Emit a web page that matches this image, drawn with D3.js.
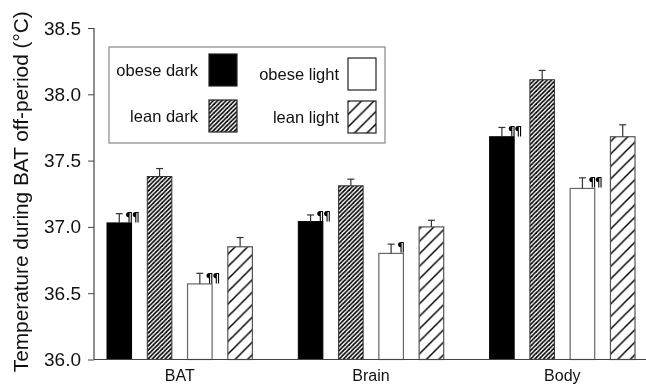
<!DOCTYPE html>
<html>
<head>
<meta charset="utf-8">
<script src="https://cdn.jsdelivr.net/npm/d3@7"></script>
<style>
  html, body { margin: 0; padding: 0; background: #fff; }
  svg { display: block; font-family: "Liberation Sans", Arial, sans-serif; will-change: transform; }
</style>
</head>
<body>
<svg id="chart" width="646" height="387"></svg>
<script>
// Measured sites and groups
const categories = ["BAT", "Brain", "Body"];
const series = ["obese dark", "lean dark", "obese light", "lean light"];

// Mean temperature (°C) per site, one array per group
const obeseDark  = [37.03, 37.04, 37.68];
const leanDark   = [37.38, 37.31, 38.11];
const obeseLight = [36.57, 36.80, 37.29];
const leanLight  = [36.85, 37.00, 37.68];

// Standard errors (upper whisker only)
const obeseDarkErr  = [0.07, 0.05, 0.07];
const leanDarkErr   = [0.06, 0.05, 0.07];
const obeseLightErr = [0.08, 0.07, 0.08];
const leanLightErr  = [0.07, 0.05, 0.09];

// Significance markers vs. lean of same phase
const obeseDarkSig  = ["¶¶", "¶¶", "¶¶"];
const obeseLightSig = ["¶¶", "¶", "¶¶"];

const yTicks = [36.0, 36.5, 37.0, 37.5, 38.0, 38.5];
const yLabel = "Temperature during BAT off-period (°C)";

const values = [obeseDark, leanDark, obeseLight, leanLight];
const errors = [obeseDarkErr, leanDarkErr, obeseLightErr, leanLightErr];
const sigs   = [obeseDarkSig, null, obeseLightSig, null];

const rows = [];
categories.forEach((c, ci) => {
  series.forEach((s, si) => {
    rows.push({
      category: c, series: s,
      value: values[si][ci], err: errors[si][ci],
      sig: sigs[si] ? sigs[si][ci] : null
    });
  });
});

const svg = d3.select("#chart");
const axisX = 94, baseY = 359.5, topY = 28, rightX = 646;

const y = d3.scaleLinear().domain([36.0, 38.5]).range([baseY, topY]);
const x0 = d3.scaleBand().domain(categories).range([96, 646])
  .paddingInner(0.24).paddingOuter(0.0575);
const x1 = d3.scaleBand().domain(series).range([0, x0.bandwidth()])
  .paddingInner(0.39).paddingOuter(0);

// Hatch fills
const defs = svg.append("defs");
function hatch(id, period, width) {
  const p = defs.append("pattern")
    .attr("id", id).attr("patternUnits", "userSpaceOnUse")
    .attr("width", period).attr("height", period);
  p.append("rect").attr("width", period).attr("height", period).attr("fill", "#fff");
  [[0, period, period, 0], [-period, period, period, -period], [0, 2 * period, 2 * period, 0]]
    .forEach(([ax, ay, bx, by]) => {
      p.append("line").attr("x1", ax).attr("y1", ay).attr("x2", bx).attr("y2", by)
        .attr("stroke", "#000").attr("stroke-width", width);
    });
}
hatch("hatchDense", 4.3, 1.6);
hatch("hatchSparse", 12.5, 1.5);

const styles = {
  "obese dark":  { fill: "#000", stroke: "#000", sw: 1 },
  "lean dark":   { fill: "url(#hatchDense)", stroke: "#333", sw: 1 },
  "obese light": { fill: "#fff", stroke: "#666", sw: 1.2 },
  "lean light":  { fill: "url(#hatchSparse)", stroke: "#555", sw: 1.2 }
};

// Axes
const yAxis = d3.axisLeft(y).tickValues(yTicks).tickFormat(d3.format(".1f"))
  .tickSize(6).tickPadding(7);
const gy = svg.append("g").attr("transform", `translate(${axisX},0)`).call(yAxis);
gy.select(".domain").remove();
gy.selectAll(".tick line").attr("stroke", "#444");
gy.selectAll(".tick text").attr("font-size", 19).attr("fill", "#111")
  .attr("font-family", "Liberation Sans, Arial, sans-serif");
svg.append("line").attr("x1", axisX).attr("x2", axisX).attr("y1", topY).attr("y2", baseY)
  .attr("stroke", "#444").attr("stroke-width", 1.2);

// Bars
const groups = svg.append("g").selectAll("g").data(categories).join("g")
  .attr("transform", d => `translate(${x0(d)},0)`);

groups.selectAll("rect.bar").data(c => rows.filter(r => r.category === c)).join("rect")
  .attr("class", "bar")
  .attr("x", d => x1(d.series))
  .attr("y", d => y(d.value))
  .attr("width", x1.bandwidth())
  .attr("height", d => baseY - y(d.value))
  .attr("fill", d => styles[d.series].fill)
  .attr("stroke", d => styles[d.series].stroke)
  .attr("stroke-width", d => styles[d.series].sw);

// Error whiskers
const eb = groups.selectAll("g.err").data(c => rows.filter(r => r.category === c)).join("g")
  .attr("class", "err")
  .attr("transform", d => `translate(${x1(d.series) + x1.bandwidth() / 2},0)`);
eb.append("line").attr("x1", 0).attr("x2", 0)
  .attr("y1", d => y(d.value)).attr("y2", d => y(d.value + d.err))
  .attr("stroke", "#333").attr("stroke-width", 1.2);
eb.append("line").attr("x1", -3.5).attr("x2", 3.5)
  .attr("y1", d => y(d.value + d.err)).attr("y2", d => y(d.value + d.err))
  .attr("stroke", "#333").attr("stroke-width", 1.2);

// Significance markers
groups.selectAll("text.sig").data(c => rows.filter(r => r.category === c && r.sig)).join("text")
  .attr("class", "sig")
  .attr("x", d => x1(d.series) + x1.bandwidth() / 2 + 6)
  .attr("y", d => y(d.value) - 2)
  .attr("font-family", "DejaVu Sans, sans-serif")
  .attr("font-size", 12).attr("font-weight", "bold").attr("fill", "#000")
  .attr("letter-spacing", -1)
  .text(d => d.sig);

// Category axis
svg.append("line").attr("x1", axisX).attr("x2", rightX).attr("y1", baseY).attr("y2", baseY)
  .attr("stroke", "#444").attr("stroke-width", 1.2);
svg.append("g").selectAll("text").data(categories).join("text")
  .attr("x", d => x0(d) + x0.bandwidth() / 2)
  .attr("y", 381)
  .attr("text-anchor", "middle").attr("font-size", 16).attr("fill", "#111")
  .text(d => d);

// Y title
svg.append("text")
  .attr("transform", `translate(28,${(topY + baseY) / 2 - 2}) rotate(-90)`)
  .attr("text-anchor", "middle").attr("font-size", 20.8).attr("fill", "#111")
  .text(yLabel);

// Legend
const legend = svg.append("g");
legend.append("rect").attr("x", 109).attr("y", 47).attr("width", 276).attr("height", 96)
  .attr("fill", "#fff").attr("stroke", "#888").attr("stroke-width", 1.2);
const legendCols = [
  { labelX: 198, swX: 209, rows: ["obese dark", "lean dark"], swY: [54, 100] },
  { labelX: 339, swX: 348, rows: ["obese light", "lean light"], swY: [58, 101] }
];
legendCols.forEach(col => {
  col.rows.forEach((s, i) => {
    const sy = col.swY[i];
    legend.append("rect").attr("x", col.swX).attr("y", sy).attr("width", 28).attr("height", 32)
      .attr("fill", styles[s].fill).attr("stroke", "#222").attr("stroke-width", 1.2);
    legend.append("text").attr("x", col.labelX).attr("y", sy + 16 + 6)
      .attr("text-anchor", "end").attr("font-size", 16.5).attr("fill", "#111")
      .text(s);
  });
});
</script>
</body>
</html>
